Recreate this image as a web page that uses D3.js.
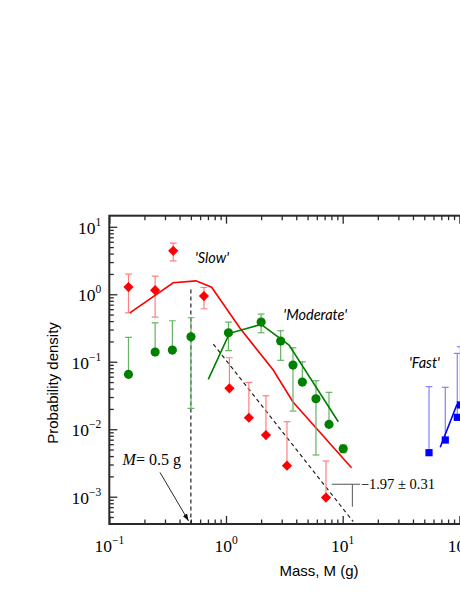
<!DOCTYPE html>
<html>
<head>
<meta charset="utf-8">
<script src="https://cdn.jsdelivr.net/npm/d3@7"></script>
<style>
  body { margin: 0; background: #fff; }
  .tick-label { font-family: "Liberation Serif", "DejaVu Serif", serif; fill: #000; }
  .axis-title { font-family: "Liberation Sans", Arial, sans-serif; font-size: 15px; fill: #000; }
  .group-label { font-family: Lato, "Open Sans", sans-serif; font-style: italic; font-size: 14.5px; fill: #000; }
</style>
</head>
<body>
<div id="chart"></div>
<script>
// 'Slow' group: bin mass (g), density, error bar ends (null = no lower bar)
var slowMass = [0.146, 0.247, 0.353, 0.647, 1.07, 1.57, 2.2, 3.33, 7.19];
var slowDens = [1.28, 1.15, 4.41, 0.94, 0.0404, 0.0148, 0.0082, 0.00288, 0.00097];
var slowHi   = [1.99, 1.86, 5.74, 1.26, 0.1146, 0.0495, 0.0313, 0.0129, 0.00338];
var slowLo   = [0.53, 0.46, 3.13, 0.61, null, null, null, null, null];
var slowFitMass = [0.150, 0.353, 0.553, 0.753, 1.32, 2.54, 3.75, 11.9];
var slowFitDens = [0.53, 1.48, 1.58, 1.27, 0.313, 0.0753, 0.0253, 0.00269];

// 'Moderate' group
var modMass = [0.146, 0.247, 0.347, 0.501, 1.05, 2.0, 2.94, 3.75, 4.51, 5.9, 7.63, 10.1];
var modDens = [0.065, 0.139, 0.149, 0.234, 0.269, 0.387, 0.203, 0.0893, 0.05, 0.0283, 0.0118, 0.00514];
var modHi   = [0.23, 0.378, 0.405, 0.449, 0.387, 0.509, 0.288, 0.161, 0.1, 0.0523, 0.0352, 0.00583];
var modLo   = [null, null, null, 0.0204, 0.146, 0.269, 0.105, 0.0186, null, 0.00415, null, 0.00449];
var modFitMass = [0.705, 1.07, 2.0, 3.47, 9.17];
var modFitDens = [0.0548, 0.264, 0.358, 0.177, 0.0129];

// 'Fast' group (mostly off the right edge)
var fastMass = [54.9, 75.7, 95.9, 102];
var fastDens = [0.00449, 0.00692, 0.015, 0.0229];
var fastHi   = [0.0427, 0.0418, 0.133, 0.167];
var fastLo   = [null, null, null, null];
var fastFitMass = [68.5, 94.9, 130];
var fastFitDens = [0.0054, 0.0229, 0.032];

// reference lines / annotations
var cutoffMass = 0.5, cutoffTop = 1.18;
var slopeMass = [0.778, 12.3];
var slopeDens = [0.183, 4.27e-4];
var slopeText = "\u22121.97 \u00b1 0.31";

var xMajor = [0.1, 1, 10, 100, 1000];
var xExp = ["\u22121", "0", "1", "2", "3"];
var yMajor = [1e-3, 1e-2, 1e-1, 1, 10];
var yExp = ["\u22123", "\u22122", "\u22121", "0", "1"];

var W = 460, H = 595;
var plot = {left: 109.3, top: 215.7, bottom: 524, decade: 116.7};

var svg = d3.select("#chart").append("svg")
  .attr("width", W).attr("height", H);

var x = d3.scaleLog().domain([0.1, 1000]).range([plot.left, plot.left + 4 * plot.decade]);
var y = d3.scaleLog().domain([3.94e-4, 14.6]).range([plot.bottom, plot.top]);

function minors(dom){
  var out = [];
  var lo = Math.floor(Math.log10(dom[0])), hi = Math.ceil(Math.log10(dom[1]));
  for (var e = lo; e < hi; e++) {
    for (var k = 2; k <= 9; k++) {
      var v = k * Math.pow(10, e);
      if (v >= dom[0] && v <= dom[1]) out.push(v);
    }
  }
  return out;
}

var frame = "#2a2a2a";

svg.append("defs").append("clipPath").attr("id", "clip")
  .append("rect")
  .attr("x", plot.left).attr("y", plot.top)
  .attr("width", x.range()[1] - plot.left).attr("height", plot.bottom - plot.top);

// axes: inward ticks, majors + minors
function drawAxis(gen, tx, ty, vals, size){
  var g = svg.append("g").attr("transform", "translate(" + tx + "," + ty + ")")
    .call(gen.tickValues(vals).tickSize(-size).tickSizeOuter(0).tickFormat(""));
  g.select(".domain").remove();
  g.selectAll(".tick line").attr("stroke", frame).attr("stroke-width", 1.3);
  return g;
}
drawAxis(d3.axisBottom(x), 0, plot.bottom, xMajor, 8);
drawAxis(d3.axisBottom(x), 0, plot.bottom, minors(x.domain()), 4.5);
drawAxis(d3.axisTop(x), 0, plot.top, xMajor, 8);
drawAxis(d3.axisTop(x), 0, plot.top, minors(x.domain()), 4.5);
drawAxis(d3.axisLeft(y), plot.left, 0, yMajor, 8);
drawAxis(d3.axisLeft(y), plot.left, 0, minors(y.domain()), 4.5);

svg.append("rect")
  .attr("x", plot.left).attr("y", plot.top)
  .attr("width", x.range()[1] - plot.left).attr("height", plot.bottom - plot.top)
  .attr("fill", "none").attr("stroke", frame).attr("stroke-width", 2);

// tick labels 10^n
xMajor.forEach(function(v, i){
  var t = svg.append("text").attr("class", "tick-label")
    .attr("x", x(v)).attr("y", 552).attr("text-anchor", "middle").style("font-size", "17.5px");
  t.append("tspan").text("10");
  t.append("tspan").attr("dy", -8).style("font-size", "11.5px").text(xExp[i]);
});
yMajor.forEach(function(v, i){
  var t = svg.append("text").attr("class", "tick-label")
    .attr("x", plot.left - 8).attr("y", y(v) + 7).attr("text-anchor", "end").style("font-size", "17.5px");
  t.append("tspan").text("10");
  t.append("tspan").attr("dy", -8).style("font-size", "11.5px").text(yExp[i]);
});

svg.append("text").attr("class", "axis-title")
  .attr("x", 319).attr("y", 576).attr("text-anchor", "middle")
  .text("Mass, M (g)");
svg.append("text").attr("class", "axis-title")
  .attr("transform", "translate(57.5,383) rotate(-90)")
  .attr("text-anchor", "middle")
  .text("Probability density");

var g = svg.append("g").attr("clip-path", "url(#clip)");

// reference lines
g.append("line")
  .attr("x1", x(cutoffMass)).attr("x2", x(cutoffMass))
  .attr("y1", y(cutoffTop)).attr("y2", plot.bottom)
  .attr("stroke", "#222").attr("stroke-width", 1.2).attr("stroke-dasharray", "4,3");
g.append("line")
  .attr("x1", x(slopeMass[0])).attr("y1", y(slopeDens[0]))
  .attr("x2", x(slopeMass[1])).attr("y2", y(slopeDens[1]))
  .attr("stroke", "#222").attr("stroke-width", 1.2).attr("stroke-dasharray", "4,3");

var line = d3.line().x(function(d){ return x(d[0]); }).y(function(d){ return y(d[1]); });

function series(mass, dens, hi, lo, fitMass, fitDens, col, barCol, shape){
  var pts = mass.map(function(m, i){ return {m: m, v: dens[i], hi: hi[i], lo: lo[i]}; });
  var bars = g.append("g");
  pts.forEach(function(p){
    var cx = x(p.m);
    var top = y(p.hi), bot = p.lo == null ? y(p.v) : y(p.lo);
    bars.append("line").attr("x1", cx).attr("x2", cx).attr("y1", top).attr("y2", bot)
      .attr("stroke", barCol).attr("stroke-width", 1.2);
    bars.append("line").attr("x1", cx - 3.4).attr("x2", cx + 3.4).attr("y1", top).attr("y2", top)
      .attr("stroke", barCol).attr("stroke-width", 1.2);
    if (p.lo != null) {
      bars.append("line").attr("x1", cx - 3.4).attr("x2", cx + 3.4).attr("y1", bot).attr("y2", bot)
        .attr("stroke", barCol).attr("stroke-width", 1.2);
    }
  });
  g.append("path")
    .datum(fitMass.map(function(m, i){ return [m, fitDens[i]]; }))
    .attr("d", line).attr("fill", "none").attr("stroke", col).attr("stroke-width", 1.6);
  var sym = d3.symbol().type(shape.type).size(shape.size);
  g.append("g").selectAll("path").data(pts).enter().append("path")
    .attr("d", sym)
    .attr("transform", function(d){ return "translate(" + x(d.m) + "," + y(d.v) + ")" + (shape.rot ? " rotate(45)" : ""); })
    .attr("fill", col);
}

series(slowMass, slowDens, slowHi, slowLo, slowFitMass, slowFitDens, "#ff0000", "#ff7f7f",
  {type: d3.symbolSquare, size: 52, rot: true});
series(modMass, modDens, modHi, modLo, modFitMass, modFitDens, "#008000", "#66b266",
  {type: d3.symbolCircle, size: 66});
series(fastMass, fastDens, fastHi, fastLo, fastFitMass, fastFitDens, "#0000ff", "#8080ff",
  {type: d3.symbolSquare, size: 52});

// group labels
svg.append("text").attr("class", "group-label").attr("x", x(0.542)).attr("y", y(2.87)).text("'Slow'");
svg.append("text").attr("class", "group-label").attr("x", x(3.10)).attr("y", y(0.415)).text("'Moderate'");
svg.append("text").attr("class", "group-label").attr("x", x(37.0)).attr("y", y(0.0798)).text("'Fast'");

// slope bracket
var brY = 0.00153;
svg.append("line").attr("x1", x(8.05)).attr("x2", x(14.1)).attr("y1", y(brY)).attr("y2", y(brY))
  .attr("stroke", "#555").attr("stroke-width", 1);
svg.append("line").attr("x1", x(12.1)).attr("x2", x(12.1)).attr("y1", y(brY)).attr("y2", y(7.1e-4))
  .attr("stroke", "#555").attr("stroke-width", 1);
svg.append("text").attr("class", "tick-label").style("font-size", "14.5px")
  .attr("x", x(14.3)).attr("y", y(brY) + 4.5).text(slopeText);

// M = 0.5 g note with arrow
svg.append("defs").append("marker")
  .attr("id", "arrow").attr("viewBox", "0 0 10 10").attr("refX", 10).attr("refY", 5)
  .attr("markerWidth", 8).attr("markerHeight", 8).attr("orient", "auto")
  .append("path").attr("d", "M0,1.5 L10,5 L0,8.5 Z").attr("fill", "#111");
svg.append("line")
  .attr("x1", x(0.272)).attr("y1", y(0.00229))
  .attr("x2", x(0.478)).attr("y2", y(4.37e-4))
  .attr("stroke", "#111").attr("stroke-width", 0.9).attr("marker-end", "url(#arrow)");
var mt = svg.append("text").attr("class", "tick-label").style("font-size", "16px")
  .attr("x", x(0.130)).attr("y", y(0.00295));
mt.append("tspan").style("font-style", "italic").text("M");
mt.append("tspan").text("= 0.5 g");
</script>
</body>
</html>
